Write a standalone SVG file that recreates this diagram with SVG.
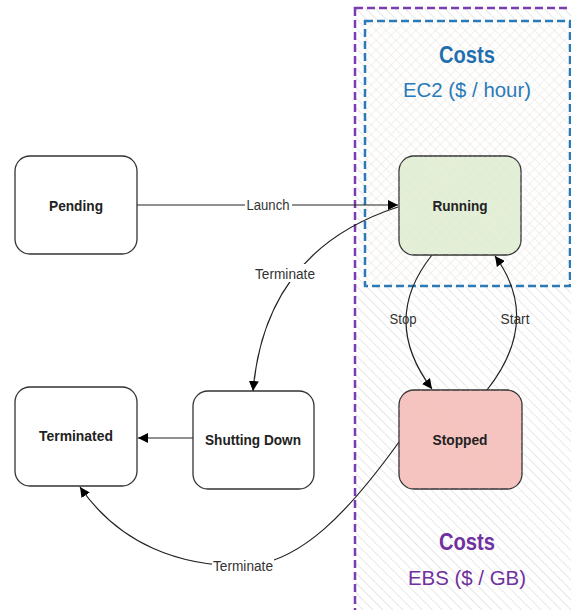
<svg xmlns="http://www.w3.org/2000/svg" width="571" height="610" viewBox="0 0 571 610">
<defs>
<pattern id="hatch" width="7" height="7" patternUnits="userSpaceOnUse" patternTransform="rotate(-45)">
<line x1="0" y1="0" x2="0" y2="7" stroke="#d6d6d6" stroke-width="1.2"/>
</pattern>
<pattern id="cross" width="7" height="7" patternUnits="userSpaceOnUse" patternTransform="rotate(45)">
<line x1="0" y1="0" x2="0" y2="7" stroke="#e4e4e4" stroke-width="1"/>
<line x1="0" y1="0" x2="7" y2="0" stroke="#eadfd2" stroke-width="1"/>
</pattern>
<marker id="arr" viewBox="0 0 10 10" refX="10" refY="5" markerWidth="10" markerHeight="10" markerUnits="userSpaceOnUse" orient="auto">
<path d="M0,0 L10,5 L0,10 z" fill="#000"/>
</marker>
</defs>
<style>
.node{stroke:#333;stroke-width:1.3;}
.lbl{font-family:"Liberation Sans",Arial,sans-serif;font-size:15px;font-weight:bold;fill:#222;text-anchor:middle;}
.elbl{font-family:"Liberation Sans",Arial,sans-serif;font-size:14px;fill:#333;text-anchor:middle;}
.edge{fill:none;stroke:#222;stroke-width:1.2;marker-end:url(#arr);}
.cost{font-family:"Liberation Sans",Arial,sans-serif;text-anchor:middle;}
</style>
<rect width="571" height="610" fill="#fff"/>
<g id="ebs-zone">
<rect x="355" y="8" width="230" height="620" fill="#fff"/>
<rect x="355" y="8" width="230" height="620" fill="url(#hatch)" stroke="#7a3db0" stroke-width="2.5" stroke-dasharray="8 4"/>
<text class="cost" x="467" y="550" font-size="23" font-weight="bold" fill="#7030a0" textLength="56" lengthAdjust="spacingAndGlyphs">Costs</text>
<text class="cost" x="467" y="585" font-size="21" fill="#7030a0" textLength="118" lengthAdjust="spacingAndGlyphs">EBS ($ / GB)</text>
</g>
<g id="ec2-zone">
<rect x="365" y="21" width="205" height="265" fill="#fff"/>
<rect x="365" y="21" width="205" height="265" fill="url(#cross)" stroke="#2a7ab8" stroke-width="2.5" stroke-dasharray="8 4"/>
<text class="cost" x="467" y="63" font-size="23" font-weight="bold" fill="#1f6fb0" textLength="56" lengthAdjust="spacingAndGlyphs">Costs</text>
<text class="cost" x="467" y="97" font-size="21" fill="#2a7ab8" textLength="128" lengthAdjust="spacingAndGlyphs">EC2 ($ / hour)</text>
</g>
<g id="connectors">
<line class="edge" x1="137" y1="205" x2="398" y2="205"/>
<rect x="245" y="196" width="47" height="17" fill="#fff"/>
<text class="elbl" x="268" y="210" textLength="43" lengthAdjust="spacingAndGlyphs">Launch</text>
<path class="edge" d="M398,207 Q265,250 253,391"/>
<rect x="254" y="264" width="62" height="18" fill="#fff"/>
<text class="elbl" x="285" y="279" textLength="60" lengthAdjust="spacingAndGlyphs">Terminate</text>
<path class="edge" d="M432,255 Q380,320 432,389"/>
<text class="elbl" x="403" y="324" textLength="27" lengthAdjust="spacingAndGlyphs">Stop</text>
<path class="edge" d="M487,390 Q542,320 495,256"/>
<text class="elbl" x="515" y="324" textLength="29" lengthAdjust="spacingAndGlyphs">Start</text>
<line class="edge" x1="193" y1="438" x2="138" y2="438"/>
<path class="edge" d="M399,442 C350,510 300,565 243,566 C180,566 120,545 80,487"/>
<rect x="212" y="557" width="62" height="17" fill="#fff"/>
<text class="elbl" x="243" y="571" textLength="60" lengthAdjust="spacingAndGlyphs">Terminate</text>
</g>
<g id="pending">
<rect class="node" x="15" y="156" width="122" height="98" rx="15" fill="#fff"/>
<text class="lbl" x="76" y="211" textLength="54" lengthAdjust="spacingAndGlyphs">Pending</text>
</g>
<g id="running">
<rect class="node" x="399" y="156" width="122" height="99" rx="15" fill="#e3efd6"/>
<rect x="399" y="156" width="122" height="99" rx="15" fill="url(#cross)" opacity="0.5"/>
<text class="lbl" x="460" y="211" textLength="55" lengthAdjust="spacingAndGlyphs">Running</text>
</g>
<g id="stopped">
<rect class="node" x="399" y="390" width="123" height="99" rx="15" fill="#f7c3bf"/>
<rect x="399" y="390" width="123" height="99" rx="15" fill="url(#hatch)" opacity="0.5"/>
<text class="lbl" x="460" y="445" textLength="55" lengthAdjust="spacingAndGlyphs">Stopped</text>
</g>
<g id="terminated">
<rect class="node" x="15" y="387" width="122" height="99" rx="15" fill="#fff"/>
<text class="lbl" x="76" y="441" textLength="74" lengthAdjust="spacingAndGlyphs">Terminated</text>
</g>
<g id="shutting-down">
<rect class="node" x="193" y="391" width="121" height="98" rx="15" fill="#fff"/>
<text class="lbl" x="253" y="445" textLength="96" lengthAdjust="spacingAndGlyphs">Shutting Down</text>
</g>
</svg>
